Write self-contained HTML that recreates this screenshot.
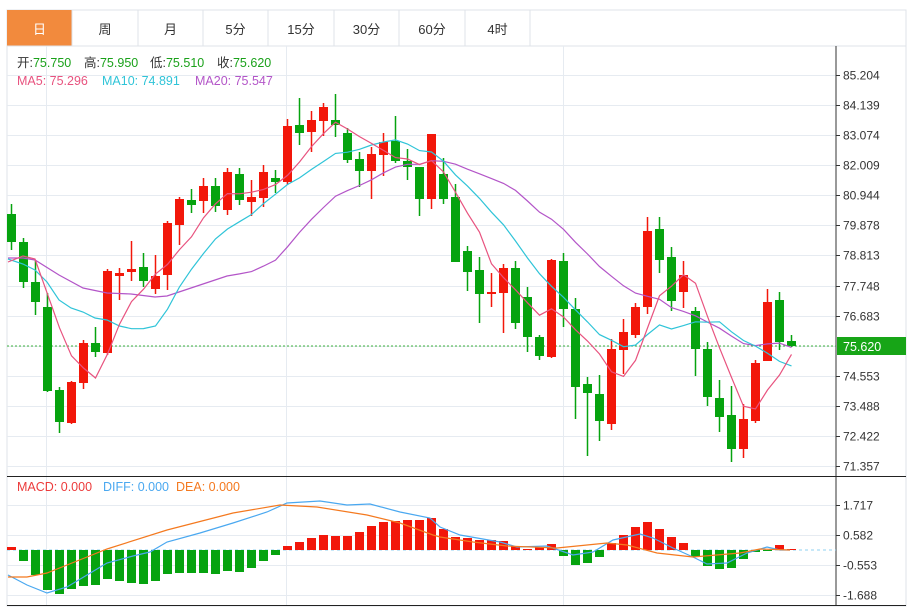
<!DOCTYPE html>
<html><head><meta charset="utf-8"><style>
html,body{margin:0;padding:0;background:#fff;width:911px;height:608px;overflow:hidden}
svg{display:block;font-family:"Liberation Sans","Noto Sans CJK SC",sans-serif}
</style></head><body>
<svg id="s" width="911" height="608" xmlns="http://www.w3.org/2000/svg">
<rect x="7" y="10" width="899" height="596" fill="#fff" stroke="#dfe3e8"/>
<rect x="7" y="10" width="65" height="36" fill="#f28a3d"/>
<line x1="7" y1="46" x2="906" y2="46" stroke="#dfe3e8"/>
<g stroke="#dfe3e8">
<line x1="72" y1="10" x2="72" y2="46"/><line x1="138" y1="10" x2="138" y2="46"/><line x1="203" y1="10" x2="203" y2="46"/><line x1="268" y1="10" x2="268" y2="46"/><line x1="334" y1="10" x2="334" y2="46"/><line x1="399" y1="10" x2="399" y2="46"/><line x1="465" y1="10" x2="465" y2="46"/><line x1="530" y1="10" x2="530" y2="46"/>
</g>
<g font-size="13" text-anchor="middle" fill="#333">
<text x="39.5" y="34" fill="#fff">日</text><text x="105" y="34">周</text><text x="170.5" y="34">月</text><text x="235.5" y="34">5分</text><text x="301" y="34">15分</text><text x="366.5" y="34">30分</text><text x="432" y="34">60分</text><text x="497.5" y="34">4时</text>
</g>
<g id="grid" stroke="#e6ebf1" stroke-width="1"></g>
<line x1="836" y1="46" x2="836" y2="606" stroke="#333"/>
<line x1="7" y1="476.5" x2="906" y2="476.5" stroke="#222"/>
<line x1="7" y1="605.5" x2="906" y2="605.5" stroke="#222"/>
<g id="plot"></g>
<g font-size="12.5">
<text x="17" y="67" fill="#333">开:<tspan fill="#1aa11a">75.750</tspan></text>
<text x="84" y="67" fill="#333">高:<tspan fill="#1aa11a">75.950</tspan></text>
<text x="150" y="67" fill="#333">低:<tspan fill="#1aa11a">75.510</tspan></text>
<text x="217" y="67" fill="#333">收:<tspan fill="#1aa11a">75.620</tspan></text>
<text x="17" y="85" fill="#e8537f">MA5: 75.296</text>
<text x="102" y="85" fill="#2fc4d8">MA10: 74.891</text>
<text x="195" y="85" fill="#b355c8">MA20: 75.547</text>
<text x="17" y="491" fill="#ec3b3b">MACD: 0.000</text>
<text x="103" y="491" fill="#4aa8f0">DIFF: 0.000</text>
<text x="176" y="491" fill="#f4791f">DEA: 0.000</text>
</g>
<g id="axis" font-size="12" fill="#333"></g>
<rect x="837" y="337" width="69" height="18" fill="#17a517"/>
<text x="843" y="351" font-size="12.5" fill="#fff">75.620</text>
</svg>
<script>
var NS="http://www.w3.org/2000/svg";
function el(p,t,a){var e=document.createElementNS(NS,t);for(var k in a)e.setAttribute(k,a[k]);p.appendChild(e);return e;}
var g=document.getElementById('grid'),ax=document.getElementById('axis'),P=document.getElementById('plot');
var labels=["85.204","84.139","83.074","82.009","80.944","79.878","78.813","77.748","76.683","","74.553","73.488","72.422","71.357"];
for(var i=0;i<labels.length;i++){var y=Math.round(75+i*30.08)+0.5;el(g,'line',{x1:7,x2:836,y1:y,y2:y});if(labels[i]){el(ax,'line',{x1:836,x2:840,y1:y,y2:y,stroke:'#333'});var t=el(ax,'text',{x:843,y:y+4});t.textContent=labels[i];}}
var ml=[["1.717",505.5],["0.582",535.5],["-0.553",565.5],["-1.688",595.5]];
ml.forEach(function(m){el(g,'line',{x1:7,x2:836,y1:m[1],y2:m[1]});el(ax,'line',{x1:836,x2:840,y1:m[1],y2:m[1],stroke:'#333'});var t=el(ax,'text',{x:843,y:m[1]+4});t.textContent=m[0];});
[46.5,286.5,563.5].forEach(function(x){el(g,'line',{x1:x,x2:x,y1:46,y2:606});});
el(P,'line',{x1:7,x2:836,y1:346,y2:346,stroke:'#3cb23c','stroke-dasharray':'2,2'});
el(P,'line',{x1:7,x2:836,y1:550,y2:550,stroke:'#8fd0f0','stroke-dasharray':'3,3'});
var C=[[214,242,204,250],[242,282,238,288],[282,302,260,315],[307,391,293,392],[390,422,387,433],[423,382,381,424],[383,343,340,389],[343,352,327,357],[353,271,269,355],[276,273,268,300],[272,269,241,281],[267,281,253,287],[289,276,255,294],[275,223,221,290],[225,199,197,245],[200,205,189,213],[201,186,178,213],[186,206,178,212],[210,172,168,215],[174,200,168,205],[202,197,180,216],[198,172,165,207],[178,182,170,193],[182,126,119,185],[125,133,98,145],[132,120,111,152],[121,107,103,136],[120,125,94,137],[133,160,128,163],[159,171,152,187],[171,154,147,199],[155,142,133,176],[141,161,116,163],[161,167,149,180],[167,199,167,216],[199,134,134,209],[174,199,158,204],[197,262,184,262],[251,272,246,291],[270,294,257,323],[294,292,273,307],[293,268,264,333],[268,323,261,329],[297,337,287,352],[337,356,335,360],[357,260,259,358],[261,309,253,327],[309,387,298,419],[384,393,377,456],[394,421,375,441],[424,349,339,430],[350,332,319,374],[335,307,303,338],[307,231,217,314],[229,260,217,273],[257,301,247,311],[292,275,261,308],[311,349,307,376],[349,397,342,406],[398,417,380,432],[415,449,386,462],[449,419,404,458],[421,363,360,423],[361,302,289,361],[300,342,292,350],[341,346,335,347]];
var RED='#f2170a',GRN='#06a30f';
function X(i){return 11.5+12*i;}
C.forEach(function(c,i){var x=X(i),up=c[1]<c[0],col=up?RED:GRN;var top=Math.min(c[0],c[1]),h=Math.max(1.5,Math.abs(c[0]-c[1]));
el(P,'line',{x1:x,x2:x,y1:c[2],y2:c[3],stroke:col,'stroke-width':1.5});el(P,'rect',{x:x-4.5,y:top,width:9,height:h,fill:col});});
function ma(n,early){var pts=early.slice();for(var i=n-1;i<C.length;i++){var s=0;for(var j=0;j<n;j++)s+=C[i-j][1];pts.push([X(i),s/n]);}return pts;}
function pl(pts,col){el(P,'polyline',{points:pts.map(function(p){return p[0]+','+p[1].toFixed(1)}).join(' '),fill:'none',stroke:col,'stroke-width':1.2});}
pl(ma(20,[[8,258],[23,258],[35,260],[59,275],[83,288],[107,293],[131,294],[155,297],[167,296],[179,292],[203,284],[227,276]]),'#b355c8');
pl(ma(10,[[8,259],[23,264],[35,270],[47,282],[59,300],[71,308],[83,312],[95,318],[107,320]]),'#2fc4d8');
pl(ma(5,[[8,262],[23,256],[35,259]]),'#e8537f');
var M=[547,561,575,590,594,589,586,585,579,581,583,584,581,574,573,573,573,574,571,572,568,561,555,546,542,538,535,536,536,532,526,522,521,520,520,518,529,537,538,540,540,541,546,549,547,544,556,565,563,557,543,535,527,522,529,537,543,557,566,569,568,559,552,551,545,549];
M.forEach(function(v,i){var x=X(i),col=v<550?RED:GRN;el(P,'rect',{x:x-4.5,y:Math.min(v,550),width:9,height:Math.max(1,Math.abs(v-550)),fill:col});});
var DIFF=[[8,575],[27,585],[47,593],[67,587],[87,575],[107,563],[133,556],[150,552],[167,542],[200,533],[233,523],[267,512],[287,503],[320,501],[347,505],[370,504],[400,512],[430,518],[440,527],[460,535],[500,542],[517,547],[547,546],[573,555],[593,552],[613,540],[640,534],[653,538],[673,548],[693,557],[707,564],[727,563],[747,553],[767,547],[780,550],[790,550]];
var DEA=[[8,577],[27,577],[47,573],[67,565],[87,557],[107,549],[167,530],[233,513],[280,505],[317,507],[367,515],[400,523],[433,535],[440,537],[473,542],[507,546],[557,548],[607,543],[627,545],[657,553],[693,557],[740,553],[760,549],[790,550]];
pl(DIFF,'#4aa8f0');pl(DEA,'#f4791f');
</script>
</body></html>
